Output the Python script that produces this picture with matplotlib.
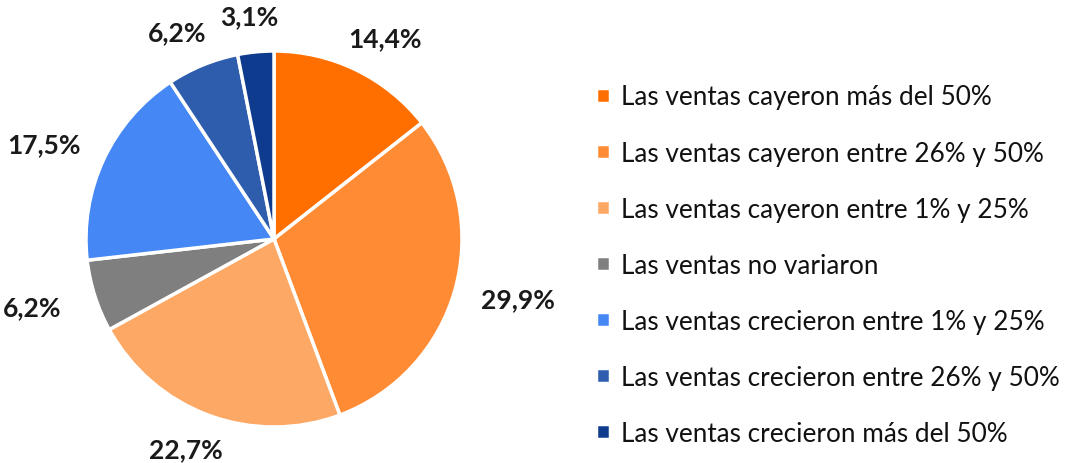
import numpy as np
import matplotlib.pyplot as plt

categorias = [
    "Las ventas cayeron más del 50%",
    "Las ventas cayeron entre 26% y 50%",
    "Las ventas cayeron entre 1% y 25%",
    "Las ventas no variaron",
    "Las ventas crecieron entre 1% y 25%",
    "Las ventas crecieron entre 26% y 50%",
    "Las ventas crecieron más del 50%",
]
valores = [14.4, 29.9, 22.7, 6.2, 17.5, 6.2, 3.1]
colores = ["#FF6F00", "#FF8C34", "#FDA865", "#7F7F7F", "#4487F5", "#2F5DAE", "#0E3B8E"]

plt.rcParams['font.family'] = ['Lato', 'DejaVu Sans']

fig = plt.figure(figsize=(10.67, 4.64), dpi=100)
ax = fig.add_axes([86 / 1067, 36 / 464, 376 / 1067, 376 / 464])

wedges, _ = ax.pie(valores, colors=colores, startangle=90, counterclock=False,
                   radius=1.0, wedgeprops=dict(edgecolor='white', linewidth=2.5))

# etiquetas fuera del borde de cada porcion
total = sum(valores)
acum = np.cumsum([0] + valores[:-1])
for v, a in zip(valores, acum):
    ang = np.deg2rad(90 - (a + v / 2) / total * 360)
    c, s = np.cos(ang), np.sin(ang)
    x = 1.08 * c + 0.27 * c
    y = 1.08 * s + 0.11 * s
    ax.text(x, y, f"{v:.1f}%".replace('.', ','), ha='center', va='center',
            fontsize=19, fontweight='bold', color='#1a1a1a')

ax.set_xlim(-1, 1)
ax.set_ylim(-1, 1)
ax.set_aspect('equal')
ax.axis('off')

leg = fig.legend(wedges, categorias, loc='upper left', bbox_to_anchor=(586 / 1067, 1 - 75 / 464),
                 frameon=False, fontsize=18.8, handlelength=0.5, handleheight=0.5,
                 handletextpad=0.45, labelspacing=1.19, borderaxespad=0)
for t in leg.get_texts():
    t.set_color('#111111')

fig.savefig('out.png', dpi=100)
